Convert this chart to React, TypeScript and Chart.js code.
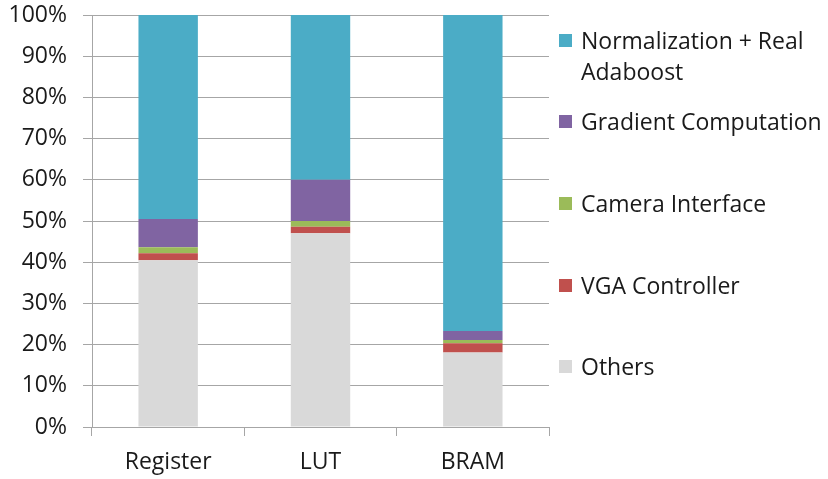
import React, { useEffect, useRef } from "react";
import { Chart, registerables } from "chart.js";

Chart.register(...registerables);

const categories = ["Register", "LUT", "BRAM"];
const others = [40.5, 47.0, 18.1];
const vgaController = [1.7, 1.6, 2.2];
const cameraInterface = [1.4, 1.4, 0.8];
const gradientComputation = [6.9, 10.0, 2.2];
const normalizationAdaboost = [49.5, 40.0, 76.7];
const yTicks = [0, 10, 20, 30, 40, 50, 60, 70, 80, 90, 100];

const FONT = "'Open Sans', sans-serif";
const FS = 23;

const legendItems = [
  { lines: ["Normalization + Real", "Adaboost"], color: "#4bacc6", top: 40 },
  { lines: ["Gradient Computation"], color: "#8064a2", top: 121 },
  { lines: ["Camera Interface"], color: "#9bbb59", top: 203 },
  { lines: ["VGA Controller"], color: "#c0504d", top: 285 },
  { lines: ["Others"], color: "#d9d9d9", top: 366 },
];

export default function App() {
  const ref = useRef<HTMLCanvasElement | null>(null);
  useEffect(() => {
    if (!ref.current) return;
    const chart = new Chart(ref.current, {
      type: "bar",
      data: {
        labels: categories,
        datasets: [
          { label: "Others", data: others, backgroundColor: "#d9d9d9" },
          { label: "VGA Controller", data: vgaController, backgroundColor: "#c0504d" },
          { label: "Camera Interface", data: cameraInterface, backgroundColor: "#9bbb59" },
          { label: "Gradient Computation", data: gradientComputation, backgroundColor: "#8064a2" },
          { label: "Normalization + Real Adaboost", data: normalizationAdaboost, backgroundColor: "#4bacc6" },
        ],
      },
      options: {
        responsive: false,
        animation: false,
        layout: { padding: { top: 15, right: 279, bottom: 0, left: 0 } },
        plugins: { legend: { display: false }, tooltip: { enabled: false } },
        datasets: { bar: { barPercentage: 0.39, categoryPercentage: 1 } },
        scales: {
          x: {
            stacked: true,
            grid: { drawOnChartArea: false, tickLength: 9, color: "#a6a6a6", offset: true },
            border: { color: "#a6a6a6" },
            ticks: { color: "#1a1a1a", font: { family: FONT, size: FS }, padding: 13 },
            afterFit: (s: any) => { s.height = 52; s.paddingLeft = 0; s.paddingRight = 0; },
          },
          y: {
            stacked: true,
            min: 0,
            max: 100,
            afterBuildTicks: (s: any) => { s.ticks = yTicks.map((v) => ({ value: v })); },
            grid: { color: "#a6a6a6", tickLength: 9 },
            border: { color: "#a6a6a6" },
            ticks: {
              color: "#1a1a1a",
              font: { family: FONT, size: FS },
              padding: 16,
              callback: (v: any) => v + "%",
            },
            afterFit: (s: any) => { s.width = 92; s.paddingTop = 0; s.paddingBottom = 0; },
          },
        },
      },
    });
    return () => chart.destroy();
  }, []);
  return (
    <div style={{ position: "absolute", left: 0, top: 0, width: 828, height: 479, background: "#fff" }}>
      <canvas ref={ref} width={828} height={479} style={{ display: "block" }} />
      {legendItems.map((it) => (
        <div key={it.lines[0]} style={{ position: "absolute", left: 559, top: it.top - 15.5, fontFamily: FONT, fontSize: FS, color: "#1a1a1a", lineHeight: "31px" }}>
          <div style={{ position: "absolute", left: 0, top: 9, width: 13, height: 13, background: it.color }} />
          <div style={{ marginLeft: 22, whiteSpace: "nowrap" }}>
            {it.lines.map((l) => (<div key={l}>{l}</div>))}
          </div>
        </div>
      ))}
    </div>
  );
}
